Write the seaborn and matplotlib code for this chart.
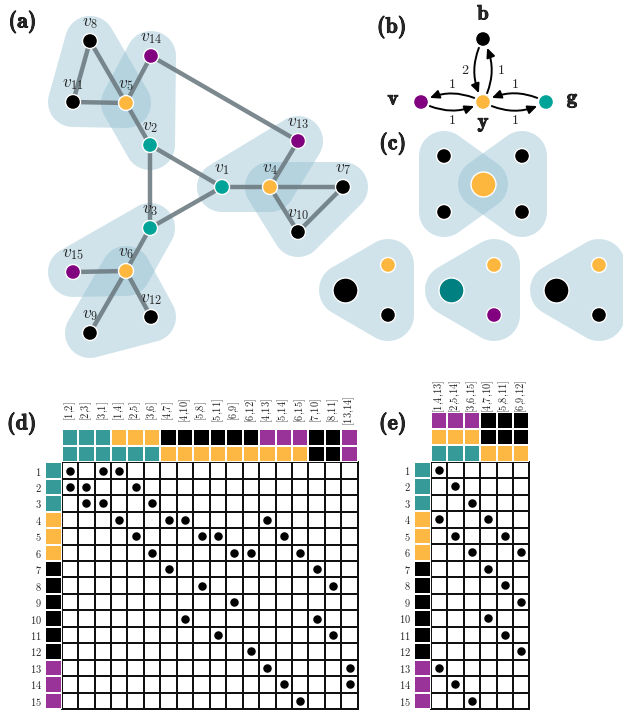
import numpy as np
import pandas as pd
import matplotlib
matplotlib.use("Agg")
import matplotlib.pyplot as plt
import matplotlib.patheffects as pe
import seaborn as sns
from matplotlib.patches import Polygon, FancyArrowPatch
from matplotlib.colors import ListedColormap

sns.set_theme(style="white")
plt.rcParams["mathtext.fontset"] = "cm"

# ---------------------------------------------------------------- data
node_ids = list(range(1, 16))
node_class = ["g", "g", "g", "y", "y", "y", "b", "b", "b", "b", "b", "b", "v", "v", "v"]
graph_edges = [(1, 2), (2, 3), (3, 1), (1, 4), (2, 5), (3, 6), (4, 7), (4, 10), (5, 8),
               (5, 11), (6, 9), (6, 12), (4, 13), (5, 14), (6, 15), (7, 10), (8, 11), (13, 14)]
hyperedges = [(1, 4, 13), (2, 5, 14), (3, 6, 15), (4, 7, 10), (5, 8, 11), (6, 9, 12)]

color_nodes = ["b", "y", "v", "g"]
color_arcs = [("b", "y", 2), ("y", "b", 1), ("y", "v", 1),
              ("v", "y", 1), ("g", "y", 1), ("y", "g", 1)]

star_center = "y"
star_leaves = ["b", "b", "b", "b"]
triple_motifs = [("b", "y", "b"), ("g", "y", "v"), ("b", "y", "b")]  # hub, top, bottom

# ---------------------------------------------------------------- styles
node_col = {"g": "#00a398", "y": "#fdb73f", "b": "#000000", "v": "#800080"}
hub_col = {"g": "#008080", "y": "#fdb73f", "b": "#000000", "v": "#800080"}
mat_classes = ["g", "y", "b", "v"]
mat_col = ["#369a98", "#fdb843", "#000000", "#993399"]
blob_col = "#8abbcf"
blob_alpha = 0.4
edge_col = "#6e7c82"
BOLD = "cmb10"
thick = [pe.withStroke(linewidth=0.6, foreground="black")]

W, H = 623, 711
fig = plt.figure(figsize=(W / 100, H / 100), dpi=100)
canvas = fig.add_axes([0, 0, 1, 1])
canvas.set_xlim(0, W)
canvas.set_ylim(H, 0)
canvas.axis("off")


def blob(points, r, n=64):
    t = np.linspace(0, 2 * np.pi, n, endpoint=False)
    pts = np.vstack([np.column_stack([x + r * np.cos(t), y + r * np.sin(t)]) for x, y in points])
    pts = sorted(map(tuple, pts))

    def cross(o, a, b):
        return (a[0] - o[0]) * (b[1] - o[1]) - (a[1] - o[1]) * (b[0] - o[0])

    lower, upper = [], []
    for p in pts:
        while len(lower) >= 2 and cross(lower[-2], lower[-1], p) <= 0:
            lower.pop()
        lower.append(p)
    for p in reversed(pts):
        while len(upper) >= 2 and cross(upper[-2], upper[-1], p) <= 0:
            upper.pop()
        upper.append(p)
    return np.array(lower[:-1] + upper[:-1])


def draw_blob(points, r=25):
    canvas.add_patch(Polygon(blob(points, r), closed=True, fc=blob_col, alpha=blob_alpha,
                             ec="none", zorder=1))


def draw_nodes(xs, ys, classes, palette, diam_px, z=4):
    df = pd.DataFrame({"x": xs, "y": ys, "cls": classes})
    s = (diam_px * 0.72) ** 2
    sns.scatterplot(data=df, x="x", y="y", hue="cls", palette=palette, s=s,
                    edgecolor="white", linewidth=1.0, legend=False, ax=canvas, zorder=z)


def panel_label(txt, x, y):
    canvas.text(x, y, "(%s)" % txt, fontsize=16, family=BOLD, ha="center", va="center",
                path_effects=thick)


# ---------------------------------------------------------------- (a) hypergraph
layout = {1: (222, 187), 2: (150, 145), 3: (150, 228), 4: (270, 187), 5: (126, 103),
          6: (126, 271), 7: (343, 187), 8: (90, 41), 9: (90, 333), 10: (298, 232),
          11: (73, 102), 12: (151, 317), 13: (298, 141), 14: (151, 56), 15: (73, 272)}

for he in hyperedges:
    draw_blob([layout[k] for k in he], 25)
for a, b in graph_edges:
    (x1, y1), (x2, y2) = layout[a], layout[b]
    canvas.plot([x1, x2], [y1, y2], color=edge_col, lw=3.2, alpha=0.9,
                solid_capstyle="butt", zorder=2)
draw_nodes([layout[k][0] for k in node_ids], [layout[k][1] for k in node_ids],
           node_class, node_col, 15)
for k in node_ids:
    x, y = layout[k]
    canvas.text(x, y - 19, r"$v_{%d}$" % k, fontsize=12.5, ha="center", va="center", zorder=5)
panel_label("a", 22.5, 21.5)

# ---------------------------------------------------------------- (b) colour graph
cpos = {"b": (483, 39), "y": (483, 102), "v": (421, 102), "g": (546, 102)}
for src, dst, w in color_arcs:
    p1, p2 = np.array(cpos[src], float), np.array(cpos[dst], float)
    arr = FancyArrowPatch(p1, p2, connectionstyle="arc3,rad=0.27",
                          arrowstyle="-|>,head_length=0.55,head_width=0.25",
                          mutation_scale=10, lw=1.4, color="black",
                          shrinkA=7, shrinkB=7, zorder=3)
    canvas.add_patch(arr)
    d = p2 - p1
    nrm = np.array([-d[1], d[0]]) / np.hypot(*d)
    lx, ly = (p1 + p2) / 2 + nrm * 18
    canvas.text(lx, ly, r"$%d$" % w, fontsize=10, ha="center", va="center")
draw_nodes([cpos[c][0] for c in color_nodes], [cpos[c][1] for c in color_nodes],
           color_nodes, node_col, 15)
letter_pos = {"b": (483, 14), "y": (483, 122), "v": (393, 99), "g": (572, 98)}
for c in color_nodes:
    canvas.text(*letter_pos[c], c, fontsize=15, family=BOLD, ha="center", va="center",
                path_effects=thick)
panel_label("b", 391.7, 26.7)

# ---------------------------------------------------------------- (c) motifs
center = (483, 184)
leaf_pos = [(444, 156), (444, 212), (522, 156), (522, 212)]
draw_blob([leaf_pos[0], leaf_pos[1], center], 25)
draw_blob([leaf_pos[2], leaf_pos[3], center], 25)
draw_nodes([p[0] for p in leaf_pos], [p[1] for p in leaf_pos], star_leaves, node_col, 15)
draw_nodes([center[0]], [center[1]], [star_center], node_col, 25)

hub_x = [345, 451, 556]
for (hub, top, bot), hx in zip(triple_motifs, hub_x):
    hp, tp, bp = (hx, 290), (hx + 43, 265), (hx + 43, 315)
    draw_blob([hp, tp, bp], 26)
    draw_nodes([hx], [290], [hub], hub_col, 25)
    draw_nodes([tp[0], bp[0]], [tp[1], bp[1]], [top, bot], node_col, 15)
panel_label("c", 392.7, 143.3)

canvas.set_xlim(0, W)
canvas.set_ylim(H, 0)
canvas.set_xlabel("")
canvas.set_ylabel("")


# ---------------------------------------------------------------- (d), (e) matrices
def px_axes(x0, y0, w, h):
    return fig.add_axes([x0 / W, 1 - (y0 + h) / H, w / W, h / H])


cls_index = {c: i for i, c in enumerate(mat_classes)}
cmap_cls = ListedColormap(mat_col)


def incidence_panel(cols, gx0, gy0, cw, ch, label_pad, letter_xy, letter):
    ncol, nrow = len(cols), len(node_ids)
    order = max(len(c) for c in cols)

    # incidence grid
    ax = px_axes(gx0, gy0, ncol * cw, nrow * ch)
    inc = np.array([[1 if n in c else 0 for c in cols] for n in node_ids])
    sns.heatmap(np.zeros_like(inc), cmap=ListedColormap(["white"]), cbar=False,
                linewidths=1.4, linecolor="#111111", ax=ax,
                xticklabels=False, yticklabels=False)
    ax.collections[0].set_clip_on(False)
    rr, cc = np.nonzero(inc)
    ax.scatter(cc + 0.5, rr + 0.5, s=26, color="black", zorder=3, clip_on=False)

    # header: colour of each member node, first member at the bottom
    hx = px_axes(gx0, gy0 - order * ch, ncol * cw, order * ch)
    hdr = np.array([[cls_index[node_class[c[k] - 1]] for c in cols]
                    for k in range(order - 1, -1, -1)])
    sns.heatmap(hdr, cmap=cmap_cls, vmin=-0.5, vmax=3.5, cbar=False, linewidths=1.2,
                linecolor="white", ax=hx, xticklabels=False, yticklabels=False)
    hx.set_xticks(np.arange(ncol) + 0.5)
    hx.set_xticklabels([r"$[%s]$" % "{,}".join(str(v) for v in c) for c in cols],
                       rotation=90, fontsize=7.5, va="center")
    hx.xaxis.tick_top()
    hx.tick_params(axis="x", length=0, pad=label_pad, top=True, labeltop=True,
                   bottom=False, labelbottom=False)

    # row colours
    rx = px_axes(gx0 - cw, gy0, cw, nrow * ch)
    rc = np.array([[cls_index[c]] for c in node_class])
    sns.heatmap(rc, cmap=cmap_cls, vmin=-0.5, vmax=3.5, cbar=False, linewidths=1.2,
                linecolor="white", ax=rx, xticklabels=False, yticklabels=False)
    rx.set_yticks(np.arange(nrow) + 0.5)
    rx.set_yticklabels([r"$%d$" % n for n in node_ids], rotation=0, fontsize=7.5)
    rx.tick_params(axis="y", length=0, pad=2.5, left=True, labelleft=True)
    canvas.text(*letter_xy, "(%s)" % letter, fontsize=16, family=BOLD,
                ha="center", va="center", path_effects=thick)


incidence_panel(graph_edges, 61.7, 462.3, 16.45, 16.45, 13.5, (21.7, 423.3), "d")
incidence_panel(hyperedges, 430.7, 461.7, 16.45, 16.5, 11.5, (392.7, 423.3), "e")

fig.savefig("out.png", dpi=100)
